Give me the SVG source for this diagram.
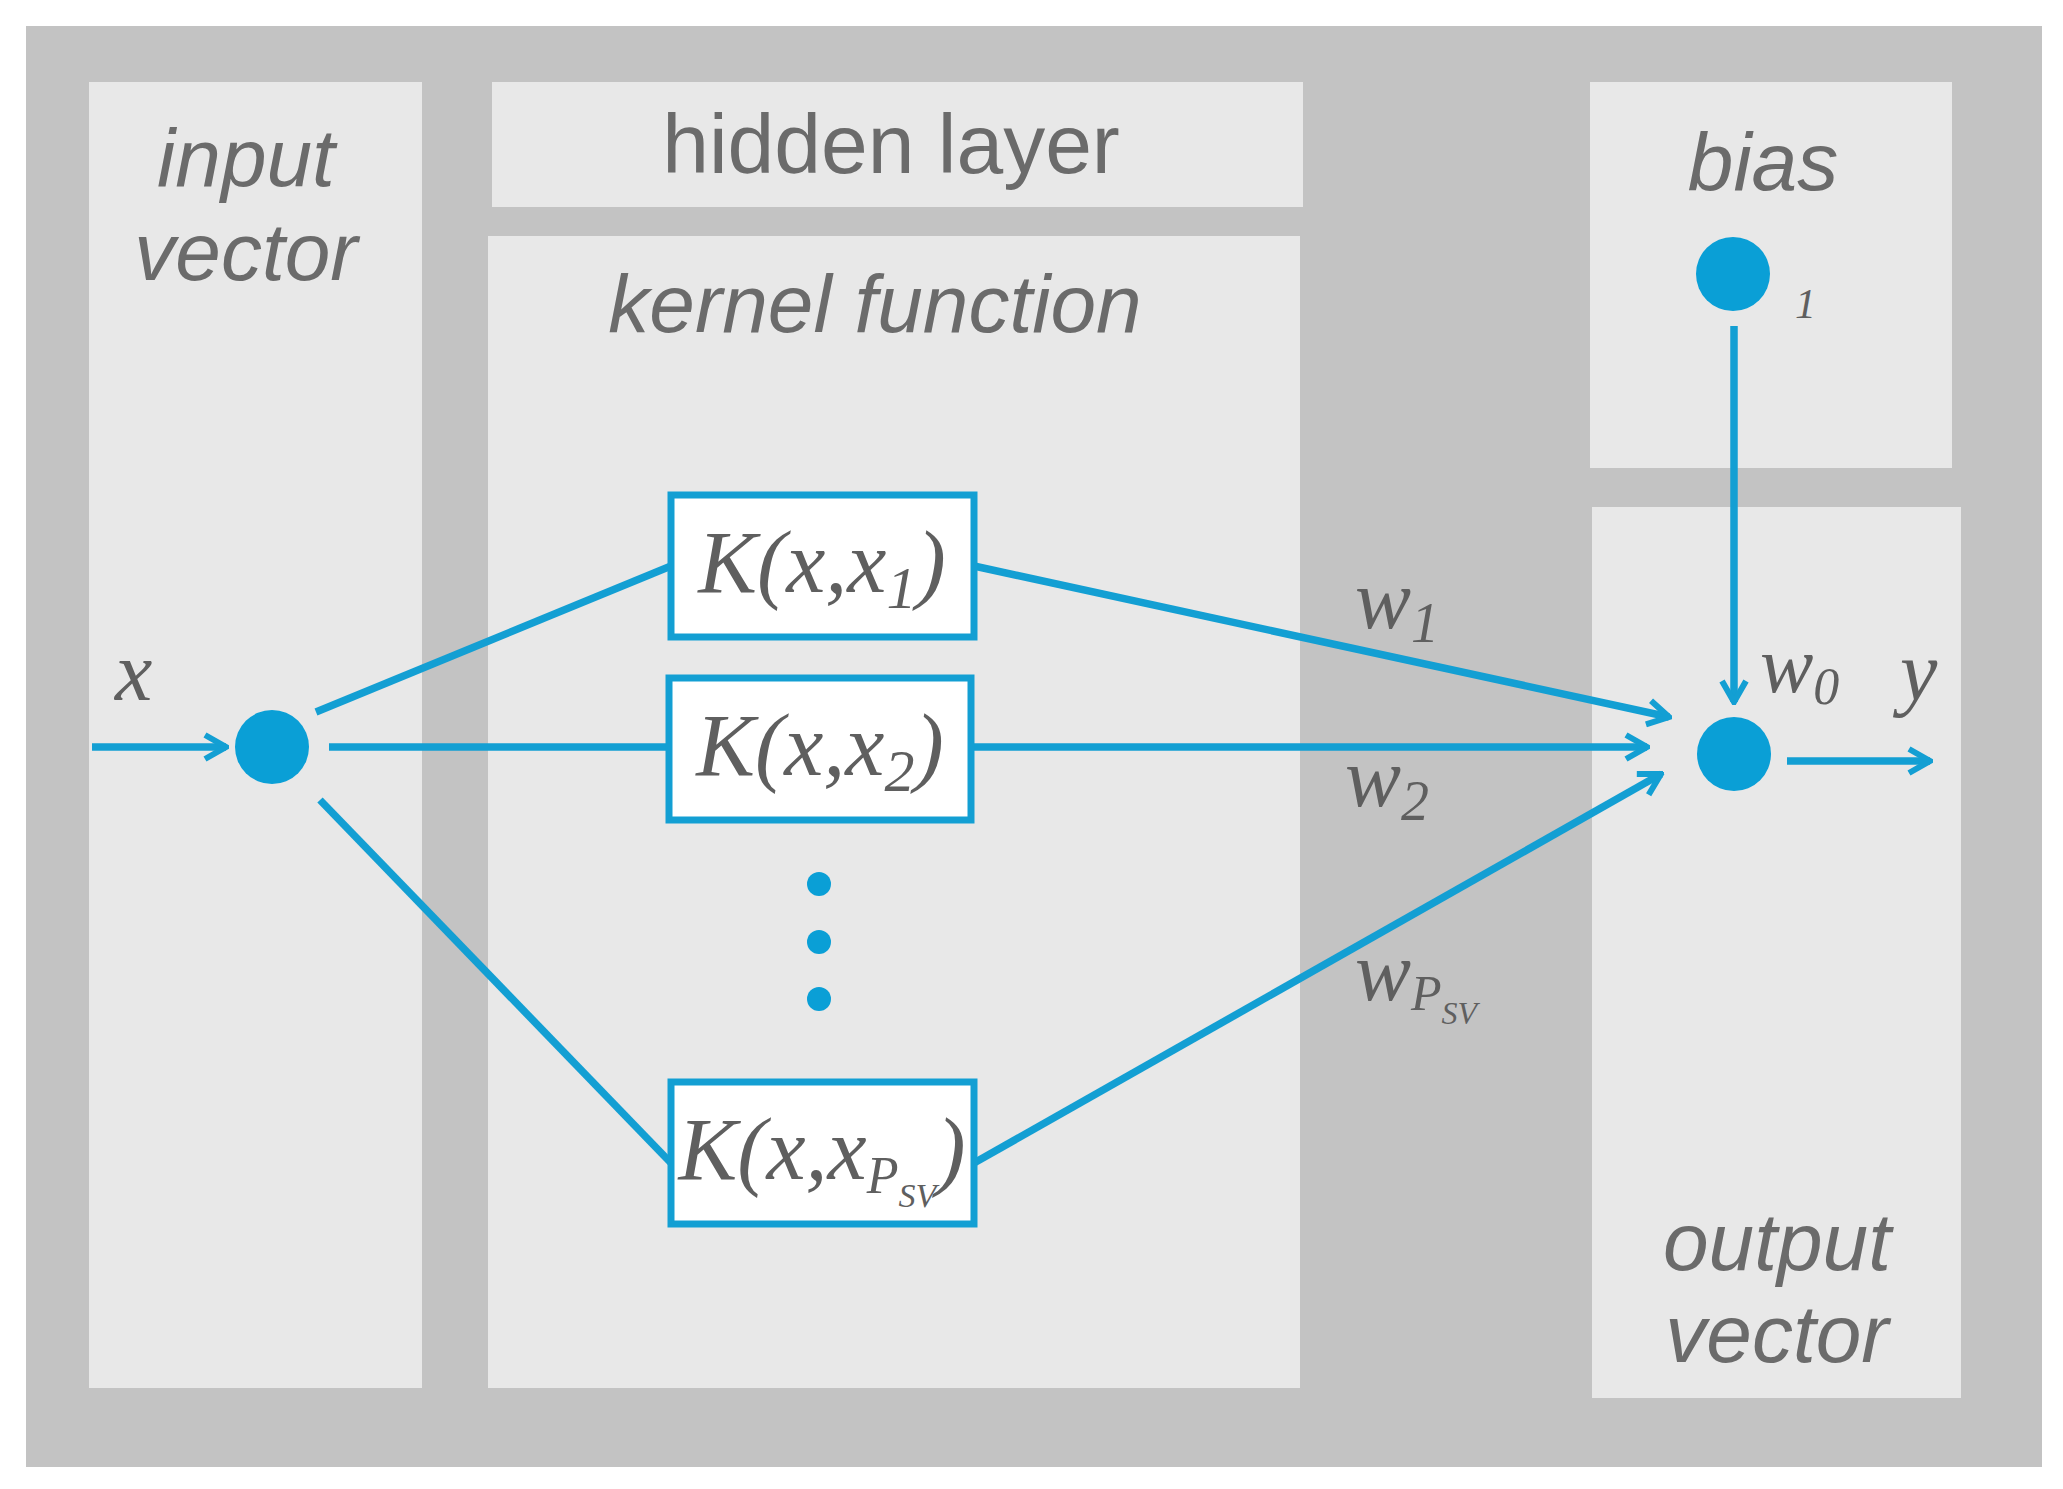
<svg xmlns="http://www.w3.org/2000/svg" width="2063" height="1489" viewBox="0 0 2063 1489">
<style>
.panel{fill:#e8e8e8}
.lbl{font-family:"Liberation Sans",Arial,sans-serif;fill:#6b6b6b;text-anchor:middle}
.it{font-style:italic}
.m{font-family:"Liberation Serif","Times New Roman",serif;font-style:italic;fill:#5f5f5f}
.box{fill:#fff;stroke:#139fd3;stroke-width:7}
.ln{stroke:#139fd3;stroke-width:7.5;fill:none}
.dot{fill:#0a9fd6}
</style>
<defs>
<marker id="ah" viewBox="0 0 30 30" refX="27" refY="15" markerWidth="30" markerHeight="30" markerUnits="userSpaceOnUse" orient="auto">
<polyline points="6,3 27,15 6,27" fill="none" stroke="#139fd3" stroke-width="6"/>
</marker>
</defs>
<rect width="2063" height="1489" fill="#fff"/>
<rect x="26" y="26" width="2016" height="1441" fill="#c3c3c3"/>
<g id="input-panel"><rect class="panel" x="89" y="82" width="333" height="1306"/>
<text class="lbl it" x="246" y="186" font-size="82">input</text>
<text class="lbl it" x="246" y="280" font-size="82">vector</text></g>
<g id="hidden-header"><rect class="panel" x="492" y="82" width="811" height="125"/>
<text class="lbl" x="891" y="173" font-size="84">hidden layer</text></g>
<g id="kernel-panel"><rect class="panel" x="488" y="236" width="812" height="1152"/>
<text class="lbl it" x="875" y="332" font-size="82">kernel function</text></g>
<g id="bias-panel"><rect class="panel" x="1590" y="82" width="362" height="386"/>
<text class="lbl it" x="1763" y="190" font-size="82">bias</text></g>
<g id="output-panel"><rect class="panel" x="1592" y="507" width="369" height="891"/>
<text class="lbl it" x="1777" y="1270" font-size="82">output</text>
<text class="lbl it" x="1777" y="1362" font-size="82">vector</text></g>
<g id="connectors">
<line class="ln" x1="92" y1="747" x2="226" y2="747" marker-end="url(#ah)"/>
<line class="ln" x1="316" y1="712" x2="671" y2="566"/>
<line class="ln" x1="329" y1="747" x2="669" y2="747"/>
<line class="ln" x1="320" y1="800" x2="671" y2="1163"/>
<line class="ln" x1="974" y1="566" x2="1669" y2="717" marker-end="url(#ah)"/>
<line class="ln" x1="971" y1="747" x2="1647" y2="747" marker-end="url(#ah)"/>
<line class="ln" x1="974" y1="1163" x2="1661" y2="774" marker-end="url(#ah)"/>
<line class="ln" x1="1734" y1="326" x2="1734" y2="702" marker-end="url(#ah)"/>
<line class="ln" x1="1787" y1="761" x2="1930" y2="761" marker-end="url(#ah)"/>
</g>
<g id="k1"><rect class="box" x="671" y="495" width="303" height="142"/>
<text class="m" x="822" y="592" font-size="88" text-anchor="middle">K(x,x<tspan font-size="60" dy="16">1</tspan><tspan dy="-16">)</tspan></text></g>
<g id="k2"><rect class="box" x="669" y="678" width="302" height="142"/>
<text class="m" x="820" y="775" font-size="88" text-anchor="middle">K(x,x<tspan font-size="60" dy="16">2</tspan><tspan dy="-16">)</tspan></text></g>
<g id="k3"><rect class="box" x="671" y="1082" width="303" height="142"/>
<text class="m" x="822" y="1179" font-size="88" text-anchor="middle">K(x,x<tspan font-size="52" dy="14">P</tspan><tspan font-size="34" dy="14">SV</tspan><tspan dy="-28">)</tspan></text></g>
<g id="dots"><circle class="dot" cx="819" cy="884" r="12"/><circle class="dot" cx="819" cy="942" r="12"/><circle class="dot" cx="819" cy="999" r="12"/></g>
<g id="input-node"><circle class="dot" cx="272" cy="747" r="37"/><text class="m" x="115" y="700" font-size="84">x</text></g>
<g id="bias-node"><circle class="dot" cx="1733" cy="274" r="37"/><text class="m" x="1795" y="318" font-size="42">1</text></g>
<g id="output-node"><circle class="dot" cx="1734" cy="754" r="37"/>
<text class="m" x="1760" y="692" font-size="80">w<tspan font-size="52" dy="12">0</tspan></text>
<text class="m" x="1900" y="700" font-size="84">y</text></g>
<g id="weights">
<text class="m" x="1355" y="628" font-size="84">w<tspan font-size="56" dy="14">1</tspan></text>
<text class="m" x="1345" y="806" font-size="84">w<tspan font-size="56" dy="14">2</tspan></text>
<text class="m" x="1355" y="1000" font-size="84">w<tspan font-size="50" dy="10">P</tspan><tspan font-size="32" dy="14">SV</tspan></text>
</g>
</svg>
